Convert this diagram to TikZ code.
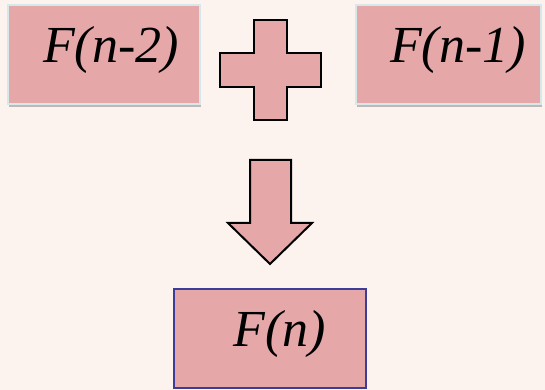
\documentclass[tikz,border=0pt]{standalone}
\usepackage{fontspec}
\setmainfont{Liberation Serif}
\usetikzlibrary{shadows}
\definecolor{bgc}{HTML}{FDF3EE}
\definecolor{pinkc}{HTML}{E6A7A8}
\definecolor{lightedge}{HTML}{D6E8EA}
\definecolor{blueedge}{HTML}{3D3D99}
\tikzset{
  topbox/.style={draw=lightedge, line width=1.8pt, fill=pinkc, inner sep=0pt,
    drop shadow={shadow xshift=0.5pt, shadow yshift=-3.5pt, opacity=0.45, fill=black!55}},
  botbox/.style={draw=blueedge, line width=2pt, fill=pinkc, inner sep=0pt},
  lbl/.style={font=\fontsize{52}{52}\selectfont\itshape, anchor=base, inner sep=0pt},
  shapeline/.style={draw=black, line width=2pt, fill=pinkc, line join=miter}
}
\begin{document}
\begin{tikzpicture}[x=1pt,y=1pt]
\fill[bgc] (0,0) rectangle (545,390);
\useasboundingbox (0,0) rectangle (545,390);
% top-left box
\node[topbox, minimum width=192pt, minimum height=99pt] (b1) at (104,335.5) {};
\node[lbl] (t1) at (111,327) {F(n-2)};
% top-right box
\node[topbox, minimum width=185pt, minimum height=99pt] (b2) at (448.5,335.5) {};
\node[lbl] (t2) at (458,327) {F(n-1)};
% plus sign
\path[shapeline] (254,370) -- (287,370) -- (287,337) -- (321,337) -- (321,303) -- (287,303)
  -- (287,270) -- (254,270) -- (254,303) -- (220,303) -- (220,337) -- (254,337) -- cycle;
% down arrow
\path[shapeline] (250,230) -- (291,230) -- (291,167) -- (312,167) -- (270,126) -- (228,167)
  -- (250,167) -- cycle;
% bottom box
\node[botbox, minimum width=192pt, minimum height=99pt] (b3) at (270,51) {};
\node[lbl] (t3) at (280,43) {F(n)};
\end{tikzpicture}
\end{document}
